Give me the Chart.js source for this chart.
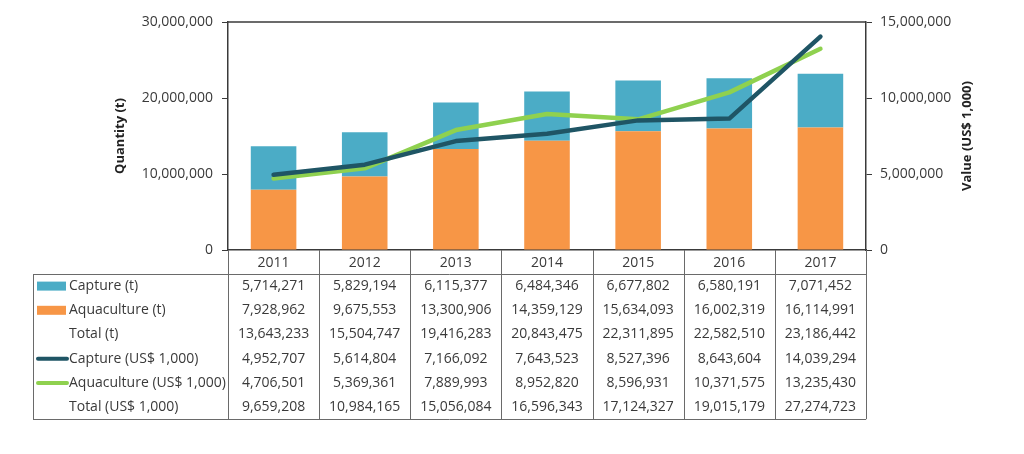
<!DOCTYPE html>
<html>
<head>
<meta charset="utf-8">
<script src="https://cdn.jsdelivr.net/npm/chart.js@4"></script>
<style>
  html, body { margin: 0; padding: 0; background: #fff; }
  #wrap { width: 1024px; height: 454px; }
</style>
</head>
<body>
<div id="wrap"><canvas id="chart" width="1024" height="454"></canvas></div>
<script>
const years = ["2011","2012","2013","2014","2015","2016","2017"];
const captureT = [5714271, 5829194, 6115377, 6484346, 6677802, 6580191, 7071452];
const aquaT = [7928962, 9675553, 13300906, 14359129, 15634093, 16002319, 16114991];
const totalT = [13643233, 15504747, 19416283, 20843475, 22311895, 22582510, 23186442];
const captureUsd = [4952707, 5614804, 7166092, 7643523, 8527396, 8643604, 14039294];
const aquaUsd = [4706501, 5369361, 7889993, 8952820, 8596931, 10371575, 13235430];
const totalUsd = [9659208, 10984165, 15056084, 16596343, 17124327, 19015179, 27274723];

const FONT = "'Open Sans', 'DejaVu Sans', sans-serif";
const TEXT = '#3a3a3a';
const AXIS = '#3a3a3a';
const GRID = '#6a6a6a';
const colCapture = '#4bacc6';
const colAqua = '#f79646';
const colCapLine = '#1f5565';
const colAquaLine = '#8fd14f';

function fmt(v){ return Number(v).toLocaleString('en-US'); }

// table rows under the chart: label, swatch type, colour, values
const tableRows = [
    ["Capture (t)", "box", colCapture, captureT],
    ["Aquaculture (t)", "box", colAqua, aquaT],
    ["Total (t)", null, null, totalT],
    ["Capture (US$ 1,000)", "line", colCapLine, captureUsd],
    ["Aquaculture (US$ 1,000)", "line", colAquaLine, aquaUsd],
    ["Total (US$ 1,000)", null, null, totalUsd]
];

const tablePlugin = {
    id: 'dataTable',
    afterDraw(chart){
        const ctx = chart.ctx;
        const area = chart.chartArea;
        const x = chart.scales.x;
        const half = (x.getPixelForValue(1) - x.getPixelForValue(0)) / 2;
        const rowH = 24.2;
        const headBottom = area.bottom + 24;
        const tableBottom = headBottom + rowH * tableRows.length;
        const tableLeft = 33;

        ctx.save();
        // plot frame top
        ctx.strokeStyle = AXIS;
        ctx.lineWidth = 1.5;
        ctx.beginPath();
        ctx.moveTo(area.left, area.top);
        ctx.lineTo(area.right, area.top);
        ctx.stroke();

        // table lines
        ctx.strokeStyle = GRID;
        ctx.lineWidth = 1;
        ctx.beginPath();
        for (let i = 0; i <= years.length; i++) {
            const px = Math.round(x.getPixelForValue(i) - half) + 0.5;
            ctx.moveTo(px, area.bottom);
            ctx.lineTo(px, tableBottom);
        }
        ctx.moveTo(tableLeft + 0.5, headBottom);
        ctx.lineTo(tableLeft + 0.5, tableBottom);
        ctx.moveTo(tableLeft, Math.round(headBottom) + 0.5);
        ctx.lineTo(area.right, Math.round(headBottom) + 0.5);
        ctx.moveTo(tableLeft, Math.round(tableBottom) + 0.5);
        ctx.lineTo(area.right, Math.round(tableBottom) + 0.5);
        ctx.stroke();

        ctx.font = "14px " + FONT;
        ctx.fillStyle = TEXT;
        ctx.textBaseline = 'middle';
        tableRows.forEach((row, r) => {
            const cy = headBottom + rowH * r + rowH / 2;
            if (row[1] === 'box') {
                ctx.fillStyle = row[2];
                ctx.fillRect(37, cy - 4.5, 29, 9);
            } else if (row[1] === 'line') {
                ctx.strokeStyle = row[2];
                ctx.lineWidth = 4;
                ctx.lineCap = 'round';
                ctx.beginPath();
                ctx.moveTo(38, cy);
                ctx.lineTo(67, cy);
                ctx.stroke();
            }
            ctx.fillStyle = TEXT;
            ctx.textAlign = 'left';
            ctx.fillText(row[0], 69, cy);
            ctx.textAlign = 'center';
            row[3].forEach((v, i) => {
                ctx.fillText(fmt(v), x.getPixelForValue(i), cy);
            });
        });

        // axis titles
        ctx.font = "bold 13px " + FONT;
        ctx.fillStyle = '#222';
        ctx.textAlign = 'center';
        const midY = (area.top + area.bottom) / 2;
        [[120, "Quantity (t)"], [967, "Value (US$ 1,000)"]].forEach(t => {
            ctx.save();
            ctx.translate(t[0], midY);
            ctx.rotate(-Math.PI / 2);
            ctx.fillText(t[1], 0, 0);
            ctx.restore();
        });
        ctx.restore();
    }
};

const ctx = document.getElementById('chart').getContext('2d');
new Chart(ctx, {
    type: 'bar',
    data: {
        labels: years,
        datasets: [
            {
                type: 'line', label: 'Capture (US$ 1,000)', data: captureUsd, yAxisID: 'y1',
                borderColor: colCapLine, borderWidth: 4.5, pointRadius: 0, tension: 0,
                borderCapStyle: 'round', borderJoinStyle: 'round', order: 0
            },
            {
                type: 'line', label: 'Aquaculture (US$ 1,000)', data: aquaUsd, yAxisID: 'y1',
                borderColor: colAquaLine, borderWidth: 4.5, pointRadius: 0, tension: 0,
                borderCapStyle: 'round', borderJoinStyle: 'round', order: 1
            },
            {
                label: 'Aquaculture (t)', data: aquaT, yAxisID: 'y', stack: 'q',
                backgroundColor: colAqua, barPercentage: 0.5, categoryPercentage: 1, order: 2
            },
            {
                label: 'Capture (t)', data: captureT, yAxisID: 'y', stack: 'q',
                backgroundColor: colCapture, barPercentage: 0.5, categoryPercentage: 1, order: 2
            }
        ]
    },
    options: {
        responsive: false,
        animation: false,
        layout: { padding: { top: 22, left: 0, right: 0, bottom: 0 } },
        plugins: {
            legend: { display: false },
            tooltip: { enabled: false }
        },
        scales: {
            x: {
                stacked: true,
                afterFit: (s) => { s.height = 204; },
                grid: { display: false, drawTicks: false },
                border: { display: true, color: AXIS, width: 1.5 },
                ticks: { color: TEXT, padding: 5, font: { family: FONT, size: 14 } }
            },
            y: {
                stacked: true,
                position: 'left',
                min: 0, max: 30000000,
                afterFit: (s) => { s.width = 228; },
                grid: { display: true, drawOnChartArea: false, drawTicks: true, tickLength: 6, color: AXIS },
                border: { display: true, color: AXIS, width: 1.5 },
                ticks: {
                    stepSize: 10000000, padding: 9, color: TEXT,
                    font: { family: FONT, size: 14 },
                    callback: (v) => fmt(v)
                }
            },
            y1: {
                position: 'right',
                min: 0, max: 15000000,
                afterFit: (s) => { s.width = 158; },
                grid: { display: true, drawOnChartArea: false, drawTicks: true, tickLength: 6, color: AXIS },
                border: { display: true, color: AXIS, width: 1.5 },
                ticks: {
                    stepSize: 5000000, padding: 8, color: TEXT,
                    font: { family: FONT, size: 14 },
                    callback: (v) => fmt(v)
                }
            }
        }
    },
    plugins: [tablePlugin]
});
</script>
</body>
</html>
